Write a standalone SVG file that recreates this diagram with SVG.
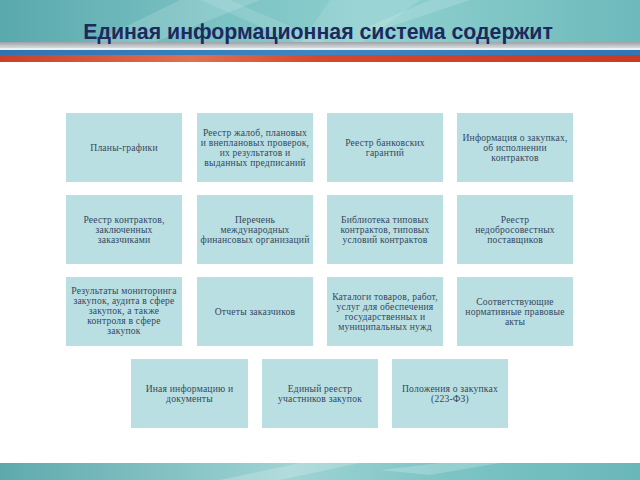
<svg xmlns="http://www.w3.org/2000/svg" width="640" height="480" viewBox="0 0 640 480">
<defs>
<linearGradient id="hdr" x1="0" y1="0" x2="1" y2="0">
<stop offset="0" stop-color="#5aa9ad"/>
<stop offset="0.35" stop-color="#7cc3c5"/>
<stop offset="0.6" stop-color="#8fd0cf"/>
<stop offset="1" stop-color="#6db9bb"/>
</linearGradient>
<linearGradient id="ftr" x1="0" y1="0" x2="1" y2="0">
<stop offset="0" stop-color="#5ea9ad"/>
<stop offset="0.45" stop-color="#9fd3d4"/>
<stop offset="0.7" stop-color="#7cc4c5"/>
<stop offset="1" stop-color="#6ab7b9"/>
</linearGradient>
<linearGradient id="gray" x1="0" y1="0" x2="0" y2="1">
<stop offset="0" stop-color="#9aa3a6"/>
<stop offset="1" stop-color="#d9dcdd"/>
</linearGradient>
<linearGradient id="blue" x1="0" y1="0" x2="1" y2="0">
<stop offset="0" stop-color="#2f73b5"/>
<stop offset="0.5" stop-color="#3d86c4"/>
<stop offset="1" stop-color="#2f75b8"/>
</linearGradient>
<linearGradient id="red" x1="0" y1="0" x2="1" y2="0">
<stop offset="0" stop-color="#c8402a"/>
<stop offset="0.3" stop-color="#e0704f"/>
<stop offset="0.5" stop-color="#d4482c"/>
<stop offset="1" stop-color="#c93a25"/>
</linearGradient>
</defs>
<style>
.box{fill:#b9dfe2;}
.t{font-family:"Liberation Serif","Times New Roman",serif;font-size:9.6px;fill:#35475e;text-anchor:middle;letter-spacing:0.2px;}
.title{font-family:"Liberation Sans",Arial,sans-serif;font-size:21.3px;font-weight:bold;fill:#1c2a5e;text-anchor:middle;}
</style>
<rect width="640" height="480" fill="#ffffff"/>
<!-- header -->
<rect x="0" y="0" width="640" height="44" fill="url(#hdr)"/>
<polygon points="180,0 260,0 150,44 90,44" fill="#ffffff" opacity="0.15"/>
<polygon points="330,0 420,0 360,44 300,44" fill="#ffffff" opacity="0.12"/>
<polygon points="200,0 230,0 330,44 300,44" fill="#ffffff" opacity="0.12"/>
<polygon points="430,0 470,0 380,30 360,30" fill="#ffffff" opacity="0.15"/>
<rect x="0" y="42" width="640" height="6" fill="url(#gray)"/>
<rect x="0" y="48" width="640" height="2" fill="#eef1f2"/>
<rect x="0" y="50" width="640" height="5" fill="url(#blue)"/>
<rect x="0" y="55" width="640" height="7" fill="url(#red)"/>
<text class="title" x="318" y="39">Единая информационная система содержит</text>
<!-- footer -->
<rect x="0" y="463" width="640" height="17" fill="url(#ftr)"/>
<polygon points="220,480 300,463 360,463 280,480" fill="#ffffff" opacity="0.2"/>
<polygon points="380,470 440,463 500,463 430,475" fill="#ffffff" opacity="0.2"/>
<g id="connectors"></g>
<!-- row 1 -->
<g id="n1"><rect class="box" x="66" y="113" width="116" height="69"/><text class="t" x="124" y="151">Планы-графики</text></g>
<g id="n2"><rect class="box" x="197" y="113" width="116" height="69"/><text class="t" x="255" y="136">Реестр жалоб, плановых</text><text class="t" x="255" y="146">и внеплановых проверок,</text><text class="t" x="255" y="156">их результатов и</text><text class="t" x="255" y="166">выданных предписаний</text></g>
<g id="n3"><rect class="box" x="327" y="113" width="116" height="69"/><text class="t" x="385" y="146">Реестр банковских</text><text class="t" x="385" y="156">гарантий</text></g>
<g id="n4"><rect class="box" x="457" y="113" width="116" height="69"/><text class="t" x="515" y="141">Информация о закупках,</text><text class="t" x="515" y="151">об исполнении</text><text class="t" x="515" y="161">контрактов</text></g>
<!-- row 2 -->
<g id="n5"><rect class="box" x="66" y="195" width="116" height="69"/><text class="t" x="124" y="223">Реестр контрактов,</text><text class="t" x="124" y="233">заключенных</text><text class="t" x="124" y="243">заказчиками</text></g>
<g id="n6"><rect class="box" x="197" y="195" width="116" height="69"/><text class="t" x="255" y="223">Перечень</text><text class="t" x="255" y="233">международных</text><text class="t" x="255" y="243">финансовых организаций</text></g>
<g id="n7"><rect class="box" x="327" y="195" width="116" height="69"/><text class="t" x="385" y="223">Библиотека типовых</text><text class="t" x="385" y="233">контрактов, типовых</text><text class="t" x="385" y="243">условий контрактов</text></g>
<g id="n8"><rect class="box" x="457" y="195" width="116" height="69"/><text class="t" x="515" y="223">Реестр</text><text class="t" x="515" y="233">недобросовестных</text><text class="t" x="515" y="243">поставщиков</text></g>
<!-- row 3 -->
<g id="n9"><rect class="box" x="66" y="277" width="116" height="69"/><text class="t" x="124" y="294">Результаты мониторинга</text><text class="t" x="124" y="304">закупок, аудита в сфере</text><text class="t" x="124" y="314">закупок, а также</text><text class="t" x="124" y="324">контроля в сфере</text><text class="t" x="124" y="334">закупок</text></g>
<g id="n10"><rect class="box" x="197" y="277" width="116" height="69"/><text class="t" x="255" y="315">Отчеты заказчиков</text></g>
<g id="n11"><rect class="box" x="327" y="277" width="116" height="69"/><text class="t" x="385" y="300">Каталоги товаров, работ,</text><text class="t" x="385" y="310">услуг для обеспечения</text><text class="t" x="385" y="320">государственных и</text><text class="t" x="385" y="330">муниципальных нужд</text></g>
<g id="n12"><rect class="box" x="457" y="277" width="116" height="69"/><text class="t" x="515" y="305">Соответствующие</text><text class="t" x="515" y="315">нормативные правовые</text><text class="t" x="515" y="325">акты</text></g>
<!-- row 4 -->
<g id="n13"><rect class="box" x="131" y="359" width="117" height="69"/><text class="t" x="189.5" y="392">Иная информацию и</text><text class="t" x="189.5" y="402">документы</text></g>
<g id="n14"><rect class="box" x="262" y="359" width="116" height="69"/><text class="t" x="320" y="392">Единый реестр</text><text class="t" x="320" y="402">участников закупок</text></g>
<g id="n15"><rect class="box" x="392" y="359" width="116" height="69"/><text class="t" x="450" y="392">Положения о закупках</text><text class="t" x="450" y="402">(223-ФЗ)</text></g>
</svg>
